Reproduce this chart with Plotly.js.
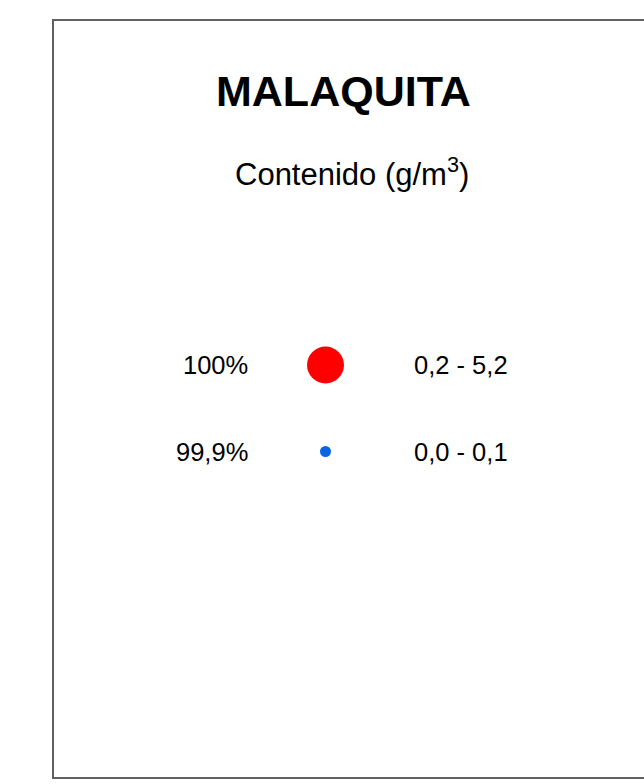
<!DOCTYPE html>
<html>
<head>
<meta charset="utf-8">
<script src="https://cdn.plot.ly/plotly-3.0.1.min.js"></script>
<style>html,body{margin:0;padding:0;background:#fff;}#chart{width:644px;height:784px;}</style>
</head>
<body>
<div id="chart"></div>
<script>
// ---- data ----
const chartTitle = "MALAQUITA";
const chartSubtitle = "Contenido (g/m<sup>3</sup>)";
const percentages = ["100%", "99,9%"];
const contentRanges = ["0,2 - 5,2", "0,0 - 0,1"];
const rowIndex = [0, 1];

// ---- styles ----
const markerColors = ["#ff0000", "#0a64e6"];
const markerSizes = [37, 11];
const FONT = "Liberation Sans, Arial, sans-serif";
const LABEL_X = 250, MARK_X = 325.5, RANGE_X = 412;

const traces = [{
  type: "scatter",
  mode: "markers",
  x: rowIndex.map(() => MARK_X),
  y: rowIndex,
  marker: {color: markerColors, size: markerSizes, opacity: 1, line: {width: 0}},
  hoverinfo: "skip",
  showlegend: false
}];

const annotations = [];
rowIndex.forEach((r, i) => {
  annotations.push({x: LABEL_X, y: r, xref: "x", yref: "y", text: percentages[i],
    showarrow: false, xanchor: "right", yanchor: "middle",
    font: {family: FONT, size: 25.5, color: "#000"}});
  annotations.push({x: RANGE_X, y: r, xref: "x", yref: "y", text: contentRanges[i],
    showarrow: false, xanchor: "left", yanchor: "middle",
    font: {family: FONT, size: 25.5, color: "#000"}});
});
annotations.push({x: 343.5, y: 1 - 91/784, xref: "x", yref: "paper", text: "<b>" + chartTitle + "</b>",
  showarrow: false, xanchor: "center", yanchor: "middle",
  font: {family: FONT, size: 43, color: "#000"}});
annotations.push({x: 352, y: 1 - 172/784, xref: "x", yref: "paper", text: chartSubtitle,
  showarrow: false, xanchor: "center", yanchor: "middle",
  font: {family: FONT, size: 31, color: "#000"}});

const layout = {
  width: 644, height: 784,
  margin: {l: 0, r: 0, t: 0, b: 0},
  paper_bgcolor: "#fff", plot_bgcolor: "#fff",
  xaxis: {range: [0, 644], visible: false, fixedrange: true},
  yaxis: {range: [(784 - 365) / 86.5, -365 / 86.5], visible: false, fixedrange: true},
  showlegend: false,
  annotations: annotations,
  shapes: [{type: "rect", xref: "paper", yref: "paper",
    x0: 53/644, x1: 1.05, y0: 1 - 778/784, y1: 1 - 20/784,
    line: {color: "#606060", width: 2}, fillcolor: "rgba(0,0,0,0)"}]
};

Plotly.newPlot("chart", traces, layout, {displayModeBar: false, staticPlot: true});
</script>
</body>
</html>
